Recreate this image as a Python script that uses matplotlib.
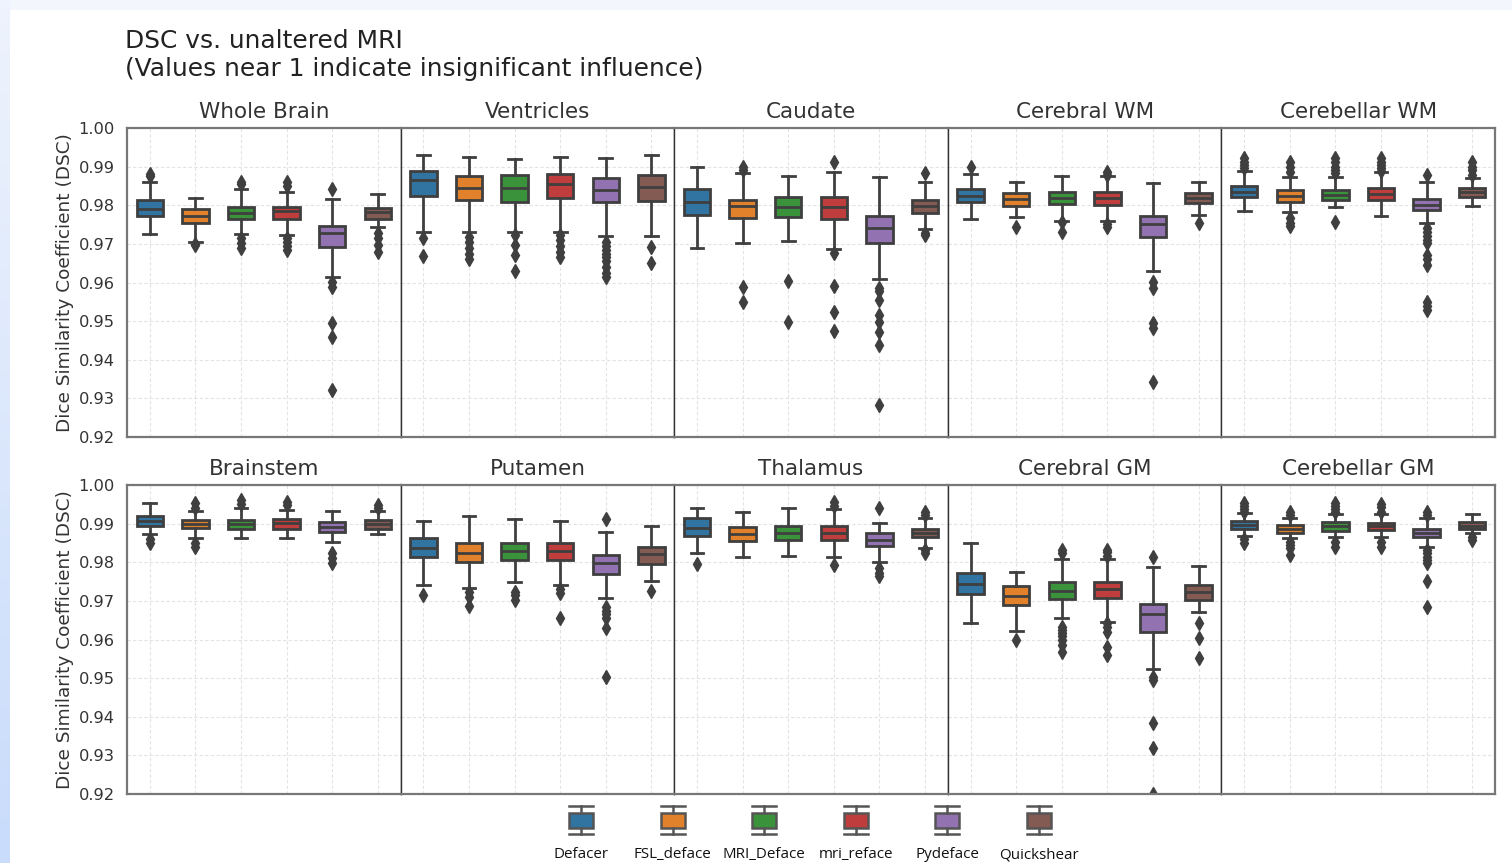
import numpy as np
import matplotlib
matplotlib.use("Agg")
from matplotlib import pyplot as plt
from matplotlib.patches import Rectangle
from matplotlib.lines import Line2D

regions = ["Whole Brain", "Ventricles", "Caudate", "Cerebral WM", "Cerebellar WM",
           "Brainstem", "Putamen", "Thalamus", "Cerebral GM", "Cerebellar GM"]
methods = ["Defacer", "FSL_deface", "MRI_Deface", "mri_reface", "Pydeface", "Quickshear"]
colors = ["#3274a1", "#e1812c", "#3a923a", "#c03d3e", "#9372b2", "#845b53"]

# box statistics, one value per method
whis_hi = {
    "Whole Brain":   [0.9861, 0.9820, 0.9842, 0.9835, 0.9816, 0.9828],
    "Ventricles":    [0.9929, 0.9924, 0.9919, 0.9924, 0.9922, 0.9929],
    "Caudate":       [0.9898, 0.9883, 0.9877, 0.9887, 0.9872, 0.9861],
    "Cerebral WM":   [0.9881, 0.9861, 0.9876, 0.9876, 0.9858, 0.9859],
    "Cerebellar WM": [0.9889, 0.9872, 0.9874, 0.9887, 0.9861, 0.9870],
    "Brainstem":     [0.9954, 0.9933, 0.9940, 0.9935, 0.9933, 0.9933],
    "Putamen":       [0.9908, 0.9920, 0.9912, 0.9908, 0.9879, 0.9894],
    "Thalamus":      [0.9941, 0.9929, 0.9941, 0.9937, 0.9902, 0.9915],
    "Cerebral GM":   [0.9849, 0.9776, 0.9808, 0.9808, 0.9787, 0.9791],
    "Cerebellar GM": [0.9928, 0.9914, 0.9925, 0.9925, 0.9914, 0.9924],
}
q3 = {
    "Whole Brain":   [0.9814, 0.9789, 0.9796, 0.9795, 0.9747, 0.9792],
    "Ventricles":    [0.9889, 0.9877, 0.9879, 0.9881, 0.9870, 0.9879],
    "Caudate":       [0.9842, 0.9814, 0.9822, 0.9821, 0.9773, 0.9814],
    "Cerebral WM":   [0.9842, 0.9833, 0.9835, 0.9834, 0.9773, 0.9831],
    "Cerebellar WM": [0.9850, 0.9839, 0.9839, 0.9844, 0.9816, 0.9844],
    "Brainstem":     [0.9920, 0.9909, 0.9909, 0.9912, 0.9903, 0.9909],
    "Putamen":       [0.9864, 0.9849, 0.9849, 0.9851, 0.9819, 0.9839],
    "Thalamus":      [0.9914, 0.9890, 0.9894, 0.9894, 0.9875, 0.9886],
    "Cerebral GM":   [0.9771, 0.9738, 0.9748, 0.9748, 0.9691, 0.9741],
    "Cerebellar GM": [0.9908, 0.9896, 0.9903, 0.9902, 0.9886, 0.9905],
}
medians = {
    "Whole Brain":   [0.9790, 0.9772, 0.9781, 0.9786, 0.9727, 0.9782],
    "Ventricles":    [0.9865, 0.9844, 0.9844, 0.9854, 0.9839, 0.9846],
    "Caudate":       [0.9809, 0.9798, 0.9796, 0.9795, 0.9742, 0.9798],
    "Cerebral WM":   [0.9824, 0.9816, 0.9820, 0.9818, 0.9751, 0.9818],
    "Cerebellar WM": [0.9835, 0.9824, 0.9827, 0.9829, 0.9801, 0.9835],
    "Brainstem":     [0.9908, 0.9899, 0.9899, 0.9901, 0.9892, 0.9899],
    "Putamen":       [0.9836, 0.9823, 0.9830, 0.9830, 0.9799, 0.9821],
    "Thalamus":      [0.9889, 0.9873, 0.9875, 0.9876, 0.9858, 0.9875],
    "Cerebral GM":   [0.9743, 0.9713, 0.9725, 0.9732, 0.9665, 0.9724],
    "Cerebellar GM": [0.9896, 0.9885, 0.9894, 0.9894, 0.9875, 0.9895],
}
q1 = {
    "Whole Brain":   [0.9772, 0.9753, 0.9764, 0.9764, 0.9691, 0.9764],
    "Ventricles":    [0.9824, 0.9814, 0.9808, 0.9818, 0.9808, 0.9810],
    "Caudate":       [0.9775, 0.9768, 0.9769, 0.9765, 0.9703, 0.9781],
    "Cerebral WM":   [0.9809, 0.9798, 0.9803, 0.9801, 0.9717, 0.9805],
    "Cerebellar WM": [0.9821, 0.9809, 0.9814, 0.9814, 0.9787, 0.9821],
    "Brainstem":     [0.9894, 0.9888, 0.9887, 0.9887, 0.9879, 0.9887],
    "Putamen":       [0.9813, 0.9800, 0.9806, 0.9806, 0.9770, 0.9795],
    "Thalamus":      [0.9868, 0.9856, 0.9858, 0.9858, 0.9842, 0.9865],
    "Cerebral GM":   [0.9718, 0.9689, 0.9704, 0.9707, 0.9620, 0.9702],
    "Cerebellar GM": [0.9886, 0.9877, 0.9881, 0.9883, 0.9866, 0.9886],
}
whis_lo = {
    "Whole Brain":   [0.9726, 0.9704, 0.9725, 0.9723, 0.9615, 0.9744],
    "Ventricles":    [0.9730, 0.9730, 0.9730, 0.9730, 0.9721, 0.9720],
    "Caudate":       [0.9690, 0.9703, 0.9708, 0.9688, 0.9608, 0.9738],
    "Cerebral WM":   [0.9764, 0.9769, 0.9760, 0.9760, 0.9630, 0.9775],
    "Cerebellar WM": [0.9785, 0.9782, 0.9795, 0.9773, 0.9753, 0.9798],
    "Brainstem":     [0.9872, 0.9862, 0.9862, 0.9862, 0.9852, 0.9872],
    "Putamen":       [0.9741, 0.9734, 0.9750, 0.9741, 0.9707, 0.9752],
    "Thalamus":      [0.9825, 0.9814, 0.9817, 0.9814, 0.9801, 0.9838],
    "Cerebral GM":   [0.9642, 0.9622, 0.9656, 0.9646, 0.9523, 0.9672],
    "Cerebellar GM": [0.9868, 0.9862, 0.9865, 0.9865, 0.9840, 0.9876],
}
fliers = {
    "Whole Brain": [[0.9881, 0.9875], [0.9700, 0.9697],
                    [0.9860, 0.9855, 0.9715, 0.9702, 0.9689],
                    [0.9861, 0.9849, 0.9715, 0.9705, 0.9695, 0.9685],
                    [0.9841, 0.9602, 0.9589, 0.9496, 0.9458, 0.9322],
                    [0.9727, 0.9714, 0.9697, 0.9678]],
    "Ventricles": [[0.9714, 0.9669], [0.9719, 0.9705, 0.9690, 0.9675, 0.9660],
                   [0.9723, 0.9697, 0.9671, 0.9630],
                   [0.9723, 0.9710, 0.9695, 0.9680, 0.9665],
                   [0.9705, 0.9695, 0.9685, 0.9675, 0.9665, 0.9655, 0.9640, 0.9625, 0.9615],
                   [0.9693, 0.9650]],
    "Caudate": [[], [0.9900, 0.9891, 0.9589, 0.9550], [0.9604, 0.9499],
                [0.9911, 0.9677, 0.9592, 0.9524, 0.9474],
                [0.9585, 0.9578, 0.9555, 0.9516, 0.9499, 0.9473, 0.9438, 0.9283],
                [0.9884, 0.9727, 0.9722]],
    "Cerebral WM": [[0.9900], [0.9743], [0.9757, 0.9731],
                    [0.9887, 0.9878, 0.9751, 0.9743],
                    [0.9602, 0.9585, 0.9496, 0.9481, 0.9343], [0.9755]],
    "Cerebellar WM": [[0.9922, 0.9913, 0.9905, 0.9896],
                      [0.9913, 0.9900, 0.9887, 0.9766, 0.9755, 0.9745],
                      [0.9922, 0.9913, 0.9900, 0.9890, 0.9884, 0.9757],
                      [0.9922, 0.9913, 0.9905, 0.9896, 0.9888],
                      [0.9878, 0.9740, 0.9730, 0.9720, 0.9710, 0.9701, 0.9671,
                       0.9660, 0.9645, 0.9550, 0.9540, 0.9529],
                      [0.9913, 0.9900, 0.9890, 0.9878]],
    "Brainstem": [[0.9859, 0.9849], [0.9953, 0.9940, 0.9849, 0.9839], [0.9961, 0.9951],
                  [0.9957, 0.9948], [0.9823, 0.9810, 0.9797], [0.9948, 0.9940]],
    "Putamen": [[0.9715], [0.9724, 0.9711, 0.9687], [0.9724, 0.9714, 0.9703],
                [0.9732, 0.9721, 0.9655],
                [0.9911, 0.9685, 0.9675, 0.9665, 0.9655, 0.9629, 0.9502], [0.9726]],
    "Thalamus": [[0.9795], [], [], [0.9955, 0.9946, 0.9793],
                 [0.9940, 0.9784, 0.9773, 0.9764], [0.9931, 0.9922, 0.9832, 0.9823]],
    "Cerebral GM": [[], [0.9600],
                    [0.9832, 0.9823, 0.9633, 0.9625, 0.9617, 0.9610, 0.9600, 0.9585, 0.9568],
                    [0.9832, 0.9827, 0.9815, 0.9643, 0.9632, 0.9620, 0.9581, 0.9560],
                    [0.9814, 0.9504, 0.9495, 0.9383, 0.9318, 0.9200],
                    [0.9644, 0.9603, 0.9553]],
    "Cerebellar GM": [[0.9953, 0.9945, 0.9938, 0.9931, 0.9859, 0.9849],
                      [0.9931, 0.9922, 0.9853, 0.9845, 0.9836, 0.9819],
                      [0.9953, 0.9945, 0.9938, 0.9931, 0.9853, 0.9840],
                      [0.9950, 0.9942, 0.9931, 0.9853, 0.9840],
                      [0.9931, 0.9922, 0.9832, 0.9823, 0.9814, 0.9806, 0.9797, 0.9751, 0.9683],
                      [0.9866, 0.9858]],
}

yticks = [0.92, 0.93, 0.94, 0.95, 0.96, 0.97, 0.98, 0.99, 1.00]

edge = "#3f3f3f"
W, H = 1512, 863
fig = plt.figure(figsize=(W / 100, H / 100), dpi=100, facecolor="#f3f6fd")

# white card with a faint blue margin, as in the screenshot
fig.patches.append(Rectangle((10 / W, 0), 1 - 10 / W, 1 - 10 / H, transform=fig.transFigure,
                             facecolor="white", edgecolor="none", zorder=-5))
gax = fig.add_axes([0, 0, 10 / W, 1], zorder=-4)
gax.imshow(np.linspace(0, 1, 100).reshape(-1, 1), aspect="auto",
           cmap=matplotlib.colors.LinearSegmentedColormap.from_list("g", ["#eef3fd", "#c9dcfb"]))
gax.axis("off")

gs = fig.add_gridspec(2, 5, left=127 / W, right=1495 / W, top=1 - 128 / H, bottom=1 - 794 / H,
                      wspace=0, hspace=48 / 309)

for k, reg in enumerate(regions):
    r, c = divmod(k, 5)
    ax = fig.add_subplot(gs[r, c])
    ax.set_facecolor("white")
    stats = []
    for i in range(len(methods)):
        stats.append(dict(med=medians[reg][i], q1=q1[reg][i], q3=q3[reg][i],
                          whislo=whis_lo[reg][i], whishi=whis_hi[reg][i],
                          fliers=fliers[reg][i], label=methods[i]))
    bp = ax.bxp(stats, positions=range(len(methods)), widths=0.58, patch_artist=True,
                boxprops=dict(edgecolor=edge, linewidth=2.0),
                medianprops=dict(color=edge, linewidth=2.0),
                whiskerprops=dict(color=edge, linewidth=2.0),
                capprops=dict(color=edge, linewidth=2.0),
                flierprops=dict(marker="d", markerfacecolor=edge, markeredgecolor=edge,
                                markersize=7.5),
                capwidths=0.28)
    for patch, col in zip(bp["boxes"], colors):
        patch.set_facecolor(col)
    ax.set_xlim(-0.5, 5.5)
    ax.set_ylim(0.92, 1.00)
    ax.set_yticks(yticks)
    ax.set_xticks(range(len(methods)))
    ax.set_xticklabels([])
    ax.tick_params(length=0, labelsize=11.7, colors="#333333", pad=9)
    ax.grid(True, linestyle=(0, (3, 2)), color="#e3e3e3", linewidth=0.8)
    ax.set_axisbelow(True)
    ax.set_title(reg, fontsize=15.5, color="#333333", pad=7)
    for name, sp in ax.spines.items():
        sp.set_color("#333333")
        sp.set_linewidth(1.0)
    if c == 0:
        ax.set_yticklabels([f"{v:.2f}" for v in yticks])
        ax.set_ylabel("Dice Similarity Coefficient (DSC)", fontsize=13.3, color="#333333",
                      labelpad=3)
        ax.spines["left"].set_color("#777777")
        ax.spines["left"].set_linewidth(1.6)
    else:
        ax.set_yticklabels([])
    if c == 4:
        ax.spines["right"].set_color("#777777")
        ax.spines["right"].set_linewidth(1.6)
    ax.spines["top"].set_color("#777777")
    ax.spines["top"].set_linewidth(1.6)
    ax.spines["bottom"].set_color("#777777")
    ax.spines["bottom"].set_linewidth(1.6)

fig.text(125 / W, 1 - 29 / H, "DSC vs. unaltered MRI\n(Values near 1 indicate insignificant influence)",
         fontsize=17.9, color="#222222", va="top", ha="left", linespacing=1.2)

# legend drawn as little boxplot icons with the label underneath
lax = fig.add_axes([0, 0, 1, 1], facecolor="none")
lax.set_xlim(0, W)
lax.set_ylim(H, 0)
lax.axis("off")
for i, (m, col) in enumerate(zip(methods, colors)):
    cx = 581 + i * 91.6
    lax.add_patch(Rectangle((cx - 12, 813), 24, 15, facecolor=col, edgecolor="#555555", lw=1.8))
    lax.add_line(Line2D([cx, cx], [806, 813], color="#555555", lw=1.8))
    lax.add_line(Line2D([cx, cx], [828, 834], color="#555555", lw=1.8))
    lax.add_line(Line2D([cx - 12, cx + 12], [806, 806], color="#555555", lw=1.8))
    lax.add_line(Line2D([cx - 12, cx + 12], [834, 834], color="#555555", lw=1.8))
    lax.text(cx, 847, m, ha="center", va="top", fontsize=10.9, family="Open Sans",
             color="#111111")

fig.savefig("out.png", dpi=100, facecolor=fig.get_facecolor())
